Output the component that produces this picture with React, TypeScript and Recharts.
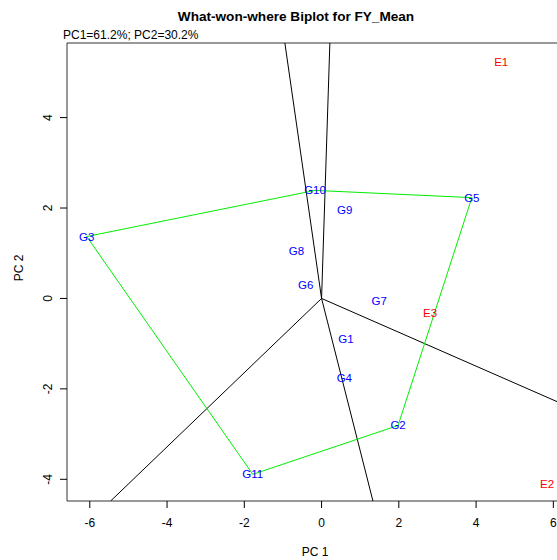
import React from 'react';
import { ScatterChart, Scatter, XAxis, YAxis, ReferenceArea } from 'recharts';

const genoNames = ['G1', 'G2', 'G3', 'G4', 'G5', 'G6', 'G7', 'G8', 'G9', 'G10', 'G11'];
const genoPC1 = [0.63, 1.98, -6.08, 0.59, 3.89, -0.41, 1.49, -0.65, 0.6, -0.17, -1.78];
const genoPC2 = [-0.9, -2.81, 1.37, -1.76, 2.23, 0.3, -0.05, 1.04, 1.95, 2.39, -3.89];

const envNames = ['E1', 'E2', 'E3'];
const envPC1 = [4.65, 5.84, 2.81];
const envPC2 = [5.23, -4.1, -0.32];

const hullOrder = ['G3', 'G10', 'G5', 'G2', 'G11', 'G3'];

const rayEndPC1 = [-0.95, 0.215, 6.25, 1.33, -5.46];
const rayEndPC2 = [5.65, 5.65, -2.34, -4.48, -4.48];

const xTicks = [-6, -4, -2, 0, 2, 4, 6];
const yTicks = [-4, -2, 0, 2, 4];
const xDomain = [-6.59, 6.25];
const yDomain = [-4.48, 5.65];

const FONT = '"Liberation Sans", Arial, sans-serif';

const genoData = genoNames.map((n, i) => ({ name: n, x: genoPC1[i], y: genoPC2[i] }));
const envData = envNames.map((n, i) => ({ name: n, x: envPC1[i], y: envPC2[i] }));
const hullData = hullOrder.map((n) => {
  const i = genoNames.indexOf(n);
  return { x: genoPC1[i], y: genoPC2[i] };
});
const rays = rayEndPC1.map((ex, i) => [
  { x: 0, y: 0 },
  { x: ex, y: rayEndPC2[i] },
]);

const makeLabel = (color: string) => (props: any) => {
  const { cx, cy, payload } = props;
  return (
    <text
      x={cx}
      y={cy}
      textAnchor="middle"
      dominantBaseline="central"
      fill={color}
      fontSize={11.5}
      fontFamily={FONT}
    >
      {payload.name}
    </text>
  );
};

const noShape = () => <g />;

const XTick = (props: any) => {
  const { x, y, payload } = props;
  return (
    <text x={x} y={y} dy="0.71em" textAnchor="middle" fontSize={12} fontFamily={FONT} fill="#000">
      {String(payload.value)}
    </text>
  );
};

const YTick = (props: any) => {
  const { x, y, payload } = props;
  return (
    <text
      x={x}
      y={y}
      transform={`rotate(-90, ${x}, ${y})`}
      textAnchor="middle"
      fontSize={12}
      fontFamily={FONT}
      fill="#000"
    >
      {String(payload.value)}
    </text>
  );
};

export default function App() {
  return (
    <div
      style={{
        position: 'fixed',
        left: 0,
        top: 0,
        width: 557,
        height: 560,
        overflow: 'hidden',
        background: '#fff',
      }}
    >
      <div style={{ position: 'absolute', left: 0, top: 0 }}>
        <ScatterChart width={575} height={560} margin={{ top: 43, right: 12, left: 0, bottom: 0 }}>
          <XAxis
            type="number"
            dataKey="x"
            domain={xDomain}
            ticks={xTicks}
            allowDataOverflow
            axisLine={false}
            tickSize={7}
            tickMargin={10}
            tickLine={{ stroke: '#000' }}
            tick={<XTick />}
            height={59}
            interval={0}
          />
          <YAxis
            type="number"
            dataKey="y"
            domain={yDomain}
            ticks={yTicks}
            allowDataOverflow
            axisLine={false}
            tickSize={7}
            tickMargin={8}
            tickLine={{ stroke: '#000' }}
            tick={<YTick />}
            width={67}
            interval={0}
          />
          <ReferenceArea
            x1={xDomain[0]}
            x2={xDomain[1]}
            y1={yDomain[0]}
            y2={yDomain[1]}
            fill="none"
            stroke="#333"
            strokeWidth={1}
            ifOverflow="visible"
          />
          {rays.map((r, i) => (
            <Scatter
              key={'ray' + i}
              data={r}
              line={{ stroke: '#000', strokeWidth: 1 }}
              lineType="joint"
              shape={noShape}
              isAnimationActive={false}
            />
          ))}
          <Scatter
            data={hullData}
            line={{ stroke: '#00ee00', strokeWidth: 1 }}
            lineType="joint"
            shape={noShape}
            isAnimationActive={false}
          />
          <Scatter data={genoData} shape={makeLabel('#0000ff')} isAnimationActive={false} />
          <Scatter data={envData} shape={makeLabel('#ff0000')} isAnimationActive={false} />
        </ScatterChart>
      </div>
      <svg
        width={557}
        height={560}
        style={{ position: 'absolute', left: 0, top: 0, pointerEvents: 'none' }}
      >
        <text x={296} y={20.5} textAnchor="middle" fontSize={13.6} fontWeight="bold" fontFamily={FONT} fill="#000">
          What-won-where Biplot for FY_Mean
        </text>
        <text x={63} y={39} fontSize={12} fontFamily={FONT} fill="#000">
          PC1=61.2%; PC2=30.2%
        </text>
        <text x={315} y={556} textAnchor="middle" fontSize={12} fontFamily={FONT} fill="#000">
          PC 1
        </text>
        <text
          x={23}
          y={268}
          transform="rotate(-90, 23, 268)"
          textAnchor="middle"
          fontSize={12}
          fontFamily={FONT}
          fill="#000"
        >
          PC 2
        </text>
      </svg>
    </div>
  );
}
